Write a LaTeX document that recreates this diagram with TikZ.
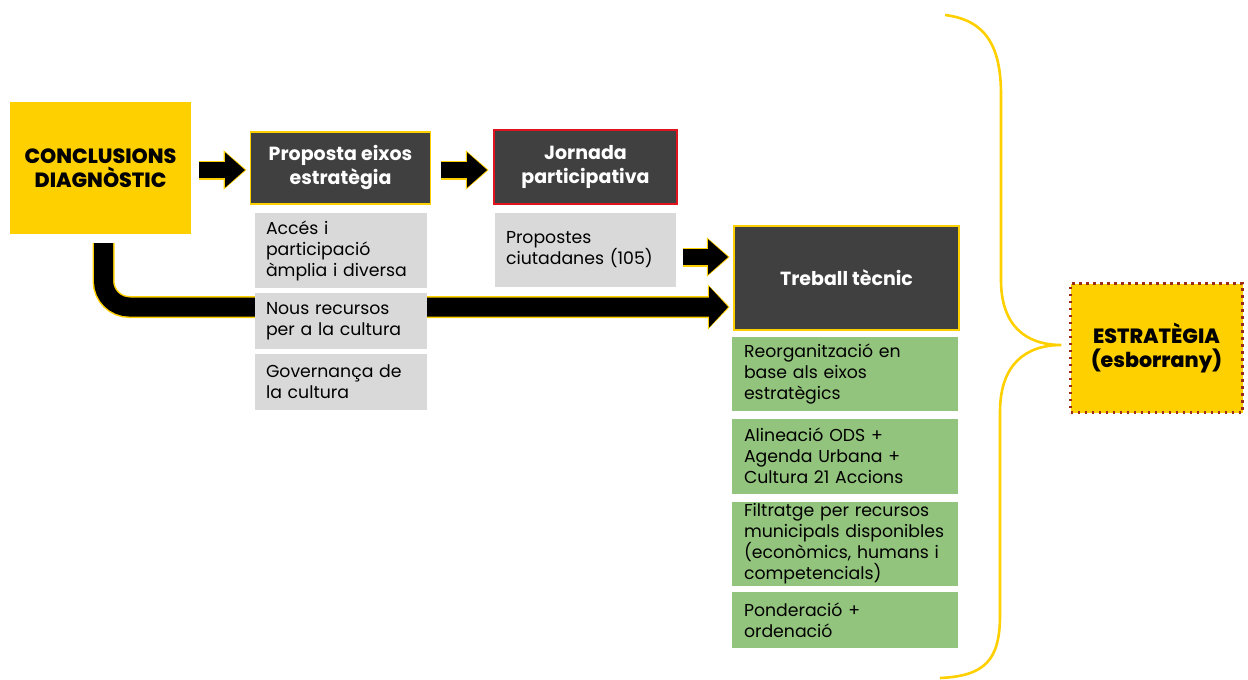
\documentclass[tikz,border=0pt]{standalone}
\usepackage{fontspec}
\setmainfont{Poppins}
\newfontfamily\heavy{Poppins ExtraBold}
\usetikzlibrary{arrows.meta,calc}
\definecolor{yel}{HTML}{FFD000}
\definecolor{dk}{HTML}{404040}
\definecolor{lg}{HTML}{D9D9D9}
\definecolor{gr}{HTML}{93C47D}
\definecolor{rd}{HTML}{E0141E}
\definecolor{drd}{HTML}{9A2A1A}
\pgfdeclarelayer{bg}
\pgfdeclarelayer{paper}
\pgfsetlayers{paper,bg,main}
\begin{document}
\begin{tikzpicture}[x=1pt,y=-1pt,
  head/.style={font=\fontsize{19}{24}\selectfont\bfseries, align=center},
  heavyhead/.style={font=\fontsize{20.6}{24}\selectfont\heavy, align=center, text=black},
  body/.style={inner xsep=11pt, inner ysep=0pt, outer sep=0pt, minimum height=#1,
     font=\fontsize{17.3}{21}\selectfont, align=left, text=black},
  graybox/.style={body=#1, fill=lg, text width=150pt},
  greenbox/.style={body=#1, fill=gr, text width=202pt, inner xsep=12pt},
  darkbox/.style={fill=dk, text=white, head},
  fat/.style={line width=16pt, draw=black, shorten >=1.6pt,
     preaction={draw=yel, line width=19pt, shorten >=0pt,
        -{Triangle[length=23pt,width=38pt]}},
     -{Triangle[length=20pt,width=34pt]}},
  fatlong/.style={line width=19pt, draw=black, shorten >=1.6pt,
     preaction={draw=yel, line width=22pt, shorten >=0pt,
        -{Triangle[length=22pt,width=44pt]}},
     -{Triangle[length=19pt,width=40pt]}},
  bracestyle/.style={draw=yel, line width=2.6pt}
]
\begin{pgfonlayer}{paper}
\fill[white] (0,0) rectangle (1248,680);
\end{pgfonlayer}
\useasboundingbox (0,0) rectangle (1248,680);

% main nodes
\node[fill=yel, heavyhead, minimum width=181pt, minimum height=132pt] (conc) at (100.5,168) {CONCLUSIONS\\DIAGNÒSTIC};
\node[darkbox, draw=yel, line width=1.8pt, minimum width=180pt, minimum height=72pt] (prop) at (340.5,168) {Proposta eixos\\estratègia};
\node[graybox=75pt] (g1) at (341,250.5) {Accés i\\participació\\àmplia i diversa};
\node[graybox=56pt] (g2) at (341,321) {Nous recursos\\per a la cultura};
\node[graybox=56pt] (g3) at (341,382) {Governança de\\la cultura};

\node[darkbox, draw=rd, line width=2.5pt, minimum width=183pt, minimum height=74pt] (jorn) at (585.5,167) {Jornada\\participativa};
\node[body=74pt, fill=lg, text width=159pt] (propos) at (585.5,250) {Propostes\\ciutadanes (105)};

\node[darkbox, draw=yel, line width=2.5pt, minimum width=225pt, minimum height=104pt] (treb) at (846.5,278) {Treball tècnic};
\node[greenbox=74pt] (gr1) at (845,374) {Reorganització en\\base als eixos\\estratègics};
\node[greenbox=75pt] (gr2) at (845,456) {Alineació ODS +\\Agenda Urbana +\\Cultura 21 Accions};
\node[greenbox=84pt] (gr3) at (845,543.5) {Filtratge per recursos\\municipals disponibles\\(econòmics, humans i\\competencials)};
\node[greenbox=56pt] (gr4) at (845,620) {Ponderació +\\ordenació};

\node[fill=yel, draw=drd, line width=2.2pt, dash pattern=on 2.2pt off 4.8pt, heavyhead,
      minimum width=172pt, minimum height=129pt] (estr) at (1156.5,348) {ESTRATÈGIA\\(esborrany)};

% connectors
\draw[fat] ($(conc.east)+(8,2)$) -- ($(prop.west)+(-3,2)$);
\draw[fat] ($(prop.east)+(10,2)$) -- ($(jorn.west)+(-4,3)$);
\draw[fat] ($(propos.east)+(7,7)$) -- ($(treb.west)+(-3,-21)$);
\begin{pgfonlayer}{bg}
\draw[fatlong, rounded corners=26pt] ($(conc.south)+(3,9)$) |- ($(treb.west)+(-3,29)$);
\end{pgfonlayer}

% brace
\coordinate (btip) at ($(estr.west)+(-8,-3)$);
\coordinate (btop) at (945,15);
\coordinate (bbot) at (940,678);
\draw[bracestyle] (btop) .. controls (985,20) and (1001,45) .. (1001,95)
  -- (1001,280) .. controls (1001,325) and (1025,345) .. (btip)
  .. controls (1025,345) and (1000,365) .. (1000,412)
  -- (1000,615) .. controls (1000,660) and (985,676) .. (bbot);
\end{tikzpicture}
\end{document}
